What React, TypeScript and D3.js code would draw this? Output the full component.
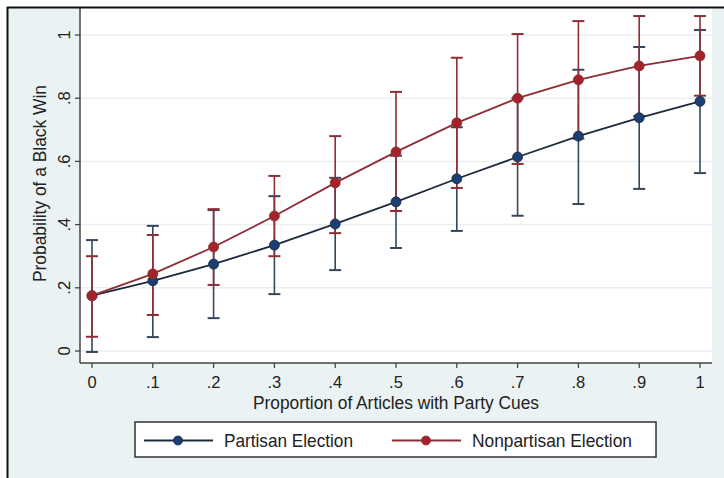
import React from "react";
import * as d3 from "d3";

const xValues = [0, 0.1, 0.2, 0.3, 0.4, 0.5, 0.6, 0.7, 0.8, 0.9, 1];
const partisanMean = [0.175, 0.222, 0.275, 0.335, 0.402, 0.472, 0.545, 0.614, 0.68, 0.738, 0.79];
const partisanLow = [-0.003, 0.044, 0.104, 0.18, 0.256, 0.326, 0.38, 0.428, 0.465, 0.513, 0.563];
const partisanHigh = [0.351, 0.396, 0.446, 0.49, 0.548, 0.618, 0.708, 0.8, 0.89, 0.962, 1.016];
const nonpartisanMean = [0.175, 0.244, 0.329, 0.427, 0.532, 0.63, 0.722, 0.8, 0.858, 0.902, 0.934];
const nonpartisanLow = [0.045, 0.114, 0.209, 0.3, 0.373, 0.443, 0.516, 0.592, 0.672, 0.744, 0.808];
const nonpartisanHigh = [0.3, 0.367, 0.449, 0.554, 0.68, 0.82, 0.928, 1.003, 1.044, 1.06, 1.06];
const yTicks = [0, 0.2, 0.4, 0.6, 0.8, 1];
const xTickLabels = ["0", ".1", ".2", ".3", ".4", ".5", ".6", ".7", ".8", ".9", "1"];
const yTickLabels = ["0", ".2", ".4", ".6", ".8", "1"];
const seriesNames = ["Partisan Election", "Nonpartisan Election"];

const FONT = "'Liberation Sans', Arial, sans-serif";

export default function App() {
  const W = 724, H = 478;
  const plotL = 80, plotR = 712, plotT = 8, plotB = 363;
  const x = d3.scaleLinear().domain([0, 1]).range([92, 700]);
  const y = d3.scaleLinear().domain([0, 1]).range([351, 35]);
  const line = d3.line<number>().x((_, i) => x(xValues[i])).y((d) => y(d));

  const series = [
    { name: seriesNames[0], mean: partisanMean, low: partisanLow, high: partisanHigh, marker: "#1a3f73", line: "#1c2a3c", ci: "#35475c", lx: 144, tl: 129 },
    { name: seriesNames[1], mean: nonpartisanMean, low: nonpartisanLow, high: nonpartisanHigh, marker: "#a3232b", line: "#8c2e33", ci: "#8e2f36", lx: 392, tl: 160 },
  ];

  return (
    <svg width={W} height={H} style={{ position: "absolute", left: 0, top: 0 }} fontFamily={FONT}>
      <rect x={0} y={0} width={W} height={H} fill="#ffffff" />
      <rect x={8} y={8} width={W - 8} height={H - 8} fill="#eaf2f3" />
      <rect x={plotL} y={plotT} width={plotR - plotL} height={plotB - plotT} fill="#ffffff" />
      {/* gridlines */}
      {yTicks.map((t) => (
        <line key={"g" + t} x1={plotL} x2={plotR} y1={y(t)} y2={y(t)} stroke="#eceff0" strokeWidth={1.5} />
      ))}
      {/* error bars */}
      {series.map((s, si) => (
        <g key={"ci" + si}>
          {xValues.map((xv, i) => (
            <g key={i} stroke={s.ci} strokeWidth={1.6}>
              <line x1={x(xv)} x2={x(xv)} y1={y(s.low[i])} y2={y(s.high[i])} />
              <line x1={x(xv) - 6} x2={x(xv) + 6} y1={y(s.low[i])} y2={y(s.low[i])} strokeWidth={2} />
              <line x1={x(xv) - 6} x2={x(xv) + 6} y1={y(s.high[i])} y2={y(s.high[i])} strokeWidth={2} />
            </g>
          ))}
        </g>
      ))}
      {/* lines */}
      {series.map((s, si) => (
        <path key={"l" + si} d={line(s.mean) || ""} fill="none" stroke={s.line} strokeWidth={1.8} />
      ))}
      {/* markers */}
      {series.map((s, si) => (
        <g key={"m" + si}>
          {xValues.map((xv, i) => (
            <circle key={i} cx={x(xv)} cy={y(s.mean[i])} r={5} fill={s.marker} stroke={s.line} strokeWidth={0.8} />
          ))}
        </g>
      ))}
      {/* axes */}
      <line x1={plotL} x2={plotL} y1={plotT} y2={plotB} stroke="#444" strokeWidth={1.5} />
      <line x1={plotL} x2={plotR} y1={plotB} y2={plotB} stroke="#444" strokeWidth={1.5} />
      {yTicks.map((t, i) => (
        <g key={"yt" + t}>
          <line x1={plotL - 5} x2={plotL} y1={y(t)} y2={y(t)} stroke="#444" strokeWidth={1.3} />
          <text
            transform={`translate(${70},${y(t)}) rotate(-90)`}
            textAnchor="middle"
            fontSize={16.5}
            fill="#222"
          >
            {yTickLabels[i]}
          </text>
        </g>
      ))}
      {xValues.map((xv, i) => (
        <g key={"xt" + i}>
          <line x1={x(xv)} x2={x(xv)} y1={plotB} y2={plotB + 5} stroke="#444" strokeWidth={1.3} />
          <text x={x(xv)} y={388} textAnchor="middle" fontSize={16.5} fill="#222">
            {xTickLabels[i]}
          </text>
        </g>
      ))}
      <text
        transform={`translate(${46},${183.5}) rotate(-90)`}
        textAnchor="middle"
        fontSize={17.5}
        fill="#222"
        textLength={197}
        lengthAdjust="spacingAndGlyphs"
      >
        Probability of a Black Win
      </text>
      <text x={396} y={409} textAnchor="middle" fontSize={17.5} fill="#222" textLength={286} lengthAdjust="spacingAndGlyphs">
        Proportion of Articles with Party Cues
      </text>
      {/* legend */}
      <rect x={135} y={422} width={521} height={35} fill="#ffffff" stroke="#333" strokeWidth={1.5} />
      {series.map((s, si) => (
        <g key={"lg" + si}>
          <line x1={s.lx} x2={s.lx + 69} y1={440.5} y2={440.5} stroke={s.line} strokeWidth={1.8} />
          <circle cx={s.lx + 34} cy={440.5} r={4.5} fill={s.marker} stroke={s.line} strokeWidth={0.8} />
          <text x={s.lx + 80} y={447} fontSize={18.5} fill="#222" textLength={s.tl} lengthAdjust="spacingAndGlyphs">
            {s.name}
          </text>
        </g>
      ))}
      {/* border */}
      <line x1={7.5} x2={7.5} y1={7} y2={H} stroke="#111" strokeWidth={2} />
      <line x1={7} x2={W} y1={7.5} y2={7.5} stroke="#111" strokeWidth={2} />
    </svg>
  );
}
